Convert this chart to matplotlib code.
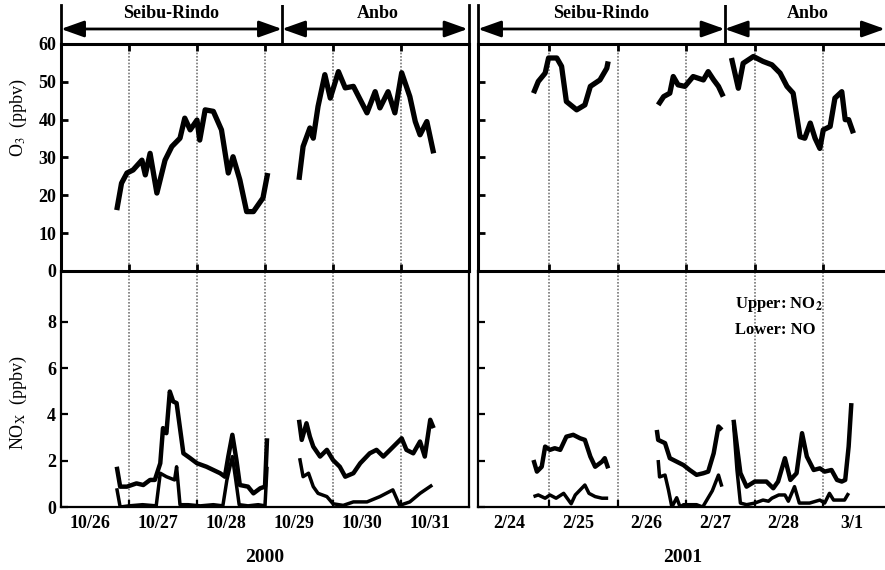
import matplotlib
matplotlib.use("Agg")
import matplotlib.pyplot as plt

plt.rcParams['font.family'] = ['Liberation Serif', 'DejaVu Serif']
plt.rcParams['mathtext.fontset'] = 'stix'

# ---------------- data ----------------
years = ['2000', '2001']
days_2000 = ['10/26', '10/27', '10/28', '10/29', '10/30', '10/31']
days_2001 = ['2/24', '2/25', '2/26', '2/27', '2/28', '3/1']
sites = ['Seibu-Rindo', 'Anbo']
site_split_2000 = 3.25
site_split_2001 = 3.56

# O3 2000 (time in days from axis start, ppbv)
o3_2000_a_t = [0.82, 0.89, 0.97, 1.06, 1.19, 1.24, 1.31, 1.41, 1.53, 1.63, 1.75, 1.82, 1.90, 2.00, 2.04, 2.12, 2.24, 2.36, 2.46, 2.53, 2.63, 2.73, 2.83, 2.97, 3.04]
o3_2000_a_v = [16.1, 23.2, 25.9, 26.7, 29.3, 25.4, 31.1, 20.6, 29.3, 32.9, 35.1, 40.4, 37.3, 39.9, 34.6, 42.6, 42.2, 37.3, 25.9, 30.2, 24.1, 15.7, 15.7, 19.3, 25.9]
o3_2000_b_t = [3.50, 3.56, 3.66, 3.71, 3.78, 3.88, 3.96, 4.08, 4.18, 4.30, 4.50, 4.62, 4.69, 4.81, 4.91, 5.01, 5.13, 5.21, 5.28, 5.38, 5.48]
o3_2000_b_v = [24.1, 32.9, 37.8, 35.1, 43.5, 51.9, 45.7, 52.7, 48.4, 48.8, 41.8, 47.4, 43.1, 47.4, 41.8, 52.4, 46.1, 39.5, 36.0, 39.5, 31.1]

# O3 2001
o3_2001_a_t = [0.77, 0.84, 0.94, 0.99, 1.11, 1.18, 1.25, 1.40, 1.52, 1.60, 1.74, 1.84, 1.86]
o3_2001_a_v = [47.0, 50.1, 52.3, 56.3, 56.3, 54.1, 44.8, 42.6, 43.9, 48.8, 50.5, 53.6, 55.4]
o3_2001_b_t = [2.59, 2.67, 2.76, 2.81, 2.88, 2.98, 3.10, 3.25, 3.32, 3.40, 3.47, 3.54]
o3_2001_b_v = [43.9, 46.1, 47.0, 51.4, 49.2, 48.8, 51.4, 50.5, 52.7, 50.5, 48.8, 46.1]
o3_2001_c_t = [3.66, 3.76, 3.83, 3.98, 4.12, 4.25, 4.37, 4.47, 4.56, 4.66, 4.73, 4.81, 4.88, 4.95, 5.00, 5.10, 5.17, 5.27, 5.32, 5.37, 5.44]
o3_2001_c_v = [56.3, 48.3, 54.9, 56.7, 55.4, 54.5, 52.3, 48.8, 47.0, 35.5, 35.1, 39.1, 35.1, 32.4, 37.3, 38.2, 45.7, 47.4, 40.0, 40.0, 36.4]

# NO2 2000
no2_2000_a_t = [0.82, 0.87, 0.97, 1.11, 1.21, 1.31, 1.38, 1.46, 1.50, 1.55, 1.60, 1.65, 1.70, 1.80, 1.90, 2.00, 2.14, 2.24, 2.34, 2.41, 2.46, 2.52, 2.58, 2.63, 2.75, 2.83, 2.93, 3.00, 3.03]
no2_2000_a_v = [1.74, 0.88, 0.88, 1.02, 0.95, 1.17, 1.17, 1.89, 3.41, 3.19, 4.99, 4.56, 4.49, 2.32, 2.11, 1.89, 1.74, 1.60, 1.46, 1.31, 2.18, 3.12, 2.03, 0.95, 0.88, 0.59, 0.81, 0.88, 2.97]
no2_2000_b_t = [3.50, 3.54, 3.61, 3.66, 3.71, 3.81, 3.91, 4.00, 4.10, 4.18, 4.30, 4.40, 4.54, 4.64, 4.74, 4.84, 5.01, 5.08, 5.18, 5.28, 5.35, 5.43, 5.48]
no2_2000_b_v = [3.77, 2.90, 3.62, 3.04, 2.61, 2.18, 2.47, 2.03, 1.74, 1.31, 1.46, 1.89, 2.32, 2.47, 2.18, 2.47, 2.97, 2.47, 2.32, 2.83, 2.18, 3.77, 3.41]

# NO 2000
no_2000_a_t = [0.82, 0.87, 1.00, 1.20, 1.40, 1.46, 1.55, 1.67, 1.70, 1.75, 1.87, 2.05, 2.24, 2.38, 2.44, 2.52, 2.57, 2.62, 2.75, 2.90, 3.00, 3.03]
no_2000_a_v = [0.81, 0.00, 0.05, 0.10, 0.05, 1.46, 1.31, 1.17, 1.74, 0.10, 0.10, 0.05, 0.10, 0.05, 1.17, 2.18, 1.17, 0.10, 0.05, 0.10, 0.05, 1.74]
no_2000_b_t = [3.51, 3.56, 3.64, 3.71, 3.78, 3.91, 4.00, 4.15, 4.30, 4.50, 4.69, 4.88, 4.98, 5.13, 5.28, 5.46]
no_2000_b_v = [2.11, 1.31, 1.46, 0.88, 0.59, 0.45, 0.14, 0.07, 0.22, 0.22, 0.45, 0.74, 0.07, 0.22, 0.59, 0.95]

# NO2 2001
no2_2001_a_t = [0.77, 0.82, 0.89, 0.94, 1.01, 1.08, 1.16, 1.25, 1.35, 1.45, 1.52, 1.60, 1.67, 1.77, 1.81, 1.86]
no2_2001_a_v = [2.03, 1.53, 1.74, 2.61, 2.47, 2.54, 2.47, 3.04, 3.12, 2.97, 2.90, 2.18, 1.74, 1.96, 2.11, 1.67]
no2_2001_b_t = [2.57, 2.59, 2.69, 2.76, 2.86, 2.96, 3.05, 3.15, 3.25, 3.32, 3.40, 3.47, 3.52]
no2_2001_b_v = [3.33, 2.90, 2.76, 2.11, 1.96, 1.81, 1.60, 1.39, 1.46, 1.53, 2.32, 3.48, 3.33]
no2_2001_c_t = [3.69, 3.74, 3.79, 3.88, 4.00, 4.17, 4.27, 4.34, 4.44, 4.52, 4.61, 4.69, 4.76, 4.86, 4.95, 5.02, 5.12, 5.20, 5.27, 5.32, 5.37, 5.41]
no2_2001_c_v = [3.77, 2.61, 1.47, 0.88, 1.10, 1.10, 0.81, 1.10, 2.11, 1.17, 1.46, 3.19, 2.18, 1.60, 1.67, 1.53, 1.60, 1.17, 1.10, 1.17, 2.61, 4.49]

# NO 2001
no_2001_a_t = [0.77, 0.84, 0.94, 1.01, 1.10, 1.21, 1.32, 1.38, 1.52, 1.58, 1.67, 1.77, 1.86]
no_2001_a_v = [0.45, 0.52, 0.38, 0.52, 0.38, 0.59, 0.14, 0.52, 0.95, 0.59, 0.45, 0.38, 0.38]
no_2001_b_t = [2.59, 2.61, 2.69, 2.74, 2.79, 2.86, 2.91, 2.96, 3.15, 3.24, 3.38, 3.47, 3.52]
no_2001_b_v = [2.03, 1.30, 1.38, 0.74, 0.00, 0.40, 0.00, 0.10, 0.10, 0.00, 0.70, 1.38, 0.88]
no_2001_c_t = [3.69, 3.74, 3.79, 3.88, 4.00, 4.12, 4.20, 4.25, 4.35, 4.44, 4.49, 4.58, 4.65, 4.80, 4.95, 5.02, 5.09, 5.15, 5.31, 5.37]
no_2001_c_v = [3.60, 1.60, 0.17, 0.10, 0.17, 0.30, 0.25, 0.38, 0.52, 0.52, 0.25, 0.88, 0.17, 0.17, 0.30, 0.17, 0.59, 0.30, 0.30, 0.60]

# ---------------- layout ----------------
W, H = 885, 570
fig = plt.figure(figsize=(W / 100, H / 100), dpi=100)


def box(x0, y0, x1, y1):
    return [x0 / W, 1 - y1 / H, (x1 - x0) / W, (y1 - y0) / H]


TFS = 13
panels = [
    dict(x0=61, x1=469, xlim=(0, 6), days=days_2000, split=site_split_2000, year=years[0],
         o3=[(o3_2000_a_t, o3_2000_a_v), (o3_2000_b_t, o3_2000_b_v)],
         no2=[(no2_2000_a_t, no2_2000_a_v), (no2_2000_b_t, no2_2000_b_v)],
         no=[(no_2000_a_t, no_2000_a_v), (no_2000_b_t, no_2000_b_v)], left=True),
    dict(x0=478, x1=887, xlim=(-0.04, 5.93), days=days_2001, split=site_split_2001, year=years[1],
         o3=[(o3_2001_a_t, o3_2001_a_v), (o3_2001_b_t, o3_2001_b_v), (o3_2001_c_t, o3_2001_c_v)],
         no2=[(no2_2001_a_t, no2_2001_a_v), (no2_2001_b_t, no2_2001_b_v), (no2_2001_c_t, no2_2001_c_v)],
         no=[(no_2001_a_t, no_2001_a_v), (no_2001_b_t, no_2001_b_v), (no_2001_c_t, no_2001_c_v)], left=False),
]

grid_days = [1, 2, 3, 4, 5]

for p in panels:
    # header with site arrows
    axh = fig.add_axes(box(p['x0'], 5, p['x1'], 44))
    axh.set_xlim(*p['xlim'])
    axh.set_ylim(0, 1)
    axh.set_xticks([]); axh.set_yticks([])
    axh.spines['top'].set_visible(False)
    axh.spines['bottom'].set_visible(False)
    for s in ('left', 'right'):
        axh.spines[s].set_linewidth(2.0)
    axh.patch.set_alpha(0)
    xa, xs, xb = p['xlim'][0], p['split'], p['xlim'][1] - (0.02 if p['left'] else 0.03)
    axh.plot([xs, xs], [0, 1], color='k', lw=2.0)
    for (l, r), name in zip([(xa, xs), (xs, xb)], sites):
        axh.annotate('', xy=(r, 0.385), xytext=(l, 0.385),
                     arrowprops=dict(arrowstyle='<|-|>,head_length=0.7,head_width=0.25',
                                     color='k', lw=2.0, mutation_scale=20, shrinkA=0, shrinkB=0))
        axh.text((l + r) / 2 + (0.05 if name == 'Anbo' else 0), 0.78, name, ha='center', va='center',
                 fontsize=TFS, fontweight='bold')

    # O3 panel
    ax1 = fig.add_axes(box(p['x0'], 44, p['x1'], 271))
    ax1.set_xlim(*p['xlim'])
    ax1.set_ylim(0, 60)
    for d in grid_days:
        ax1.axvline(d, color='#777777', lw=1.2, ls=(0, (1, 1)), zorder=1)
    for t, v in p['o3']:
        ax1.plot(t, v, color='k', lw=3.8, solid_capstyle='butt', solid_joinstyle='round', zorder=3)
    ax1.set_yticks([0, 10, 20, 30, 40, 50, 60])
    ax1.set_xticks(grid_days)
    ax1.tick_params(axis='both', direction='in', length=5, width=2.0, top=True,
                    labelsize=TFS, labelbottom=False)
    for lab in ax1.get_yticklabels():
        lab.set_fontweight('bold')
    if not p['left']:
        ax1.tick_params(labelleft=False)
    for s in ax1.spines.values():
        s.set_linewidth(2.2)

    # NOx panel
    ax2 = fig.add_axes(box(p['x0'], 271, p['x1'], 507))
    ax2.set_xlim(*p['xlim'])
    ax2.set_ylim(0, 10.2)
    for d in grid_days:
        ax2.axvline(d, color='#777777', lw=1.2, ls=(0, (1, 1)), zorder=1)
    for t, v in p['no2']:
        ax2.plot(t, v, color='k', lw=3.2, solid_capstyle='butt', solid_joinstyle='round', zorder=3)
    for t, v in p['no']:
        ax2.plot(t, v, color='k', lw=2.5, solid_capstyle='butt', solid_joinstyle='round', zorder=3)
    ax2.set_yticks([0, 2, 4, 6, 8])
    ax2.set_xticks(grid_days)
    ax2.set_xticks([i + 0.42 for i in range(6)], p['days'], minor=True)
    ax2.tick_params(axis='both', which='major', direction='in', length=5, width=1.6,
                    labelsize=TFS, labelbottom=False)
    ax2.tick_params(axis='x', which='minor', length=0, labelsize=TFS, pad=6)
    for lab in ax2.get_yticklabels() + ax2.get_xticklabels(minor=True):
        lab.set_fontweight('bold')
    if not p['left']:
        ax2.tick_params(labelleft=False)
    for s in ax2.spines.values():
        s.set_linewidth(1.6)
    ax2.spines['top'].set_visible(False)
    ax1.set_zorder(ax2.get_zorder() + 1)
    ax1.patch.set_alpha(0)

    # year label
    fig.text(((p['x0'] + p['x1']) / 2) / W, 1 - 558 / H, p['year'],
             ha='center', va='center', fontsize=14, fontweight='bold')

# species legend text
fig.text(735 / W, 1 - 304 / H, r'Upper: NO$_\mathbf{2}$', fontsize=12, fontweight='bold', va='center')
fig.text(735 / W, 1 - 330 / H, 'Lower: NO', fontsize=12, fontweight='bold', va='center')

# y labels
fig.text(18 / W, 1 - 118 / H, r'O$_3$  (ppbv)', rotation=90, ha='center', va='center', fontsize=13)
fig.text(18 / W, 1 - 403 / H, r'NO$_\mathrm{X}$  (ppbv)', rotation=90, ha='center', va='center', fontsize=13)

fig.savefig('out.png', dpi=100)
